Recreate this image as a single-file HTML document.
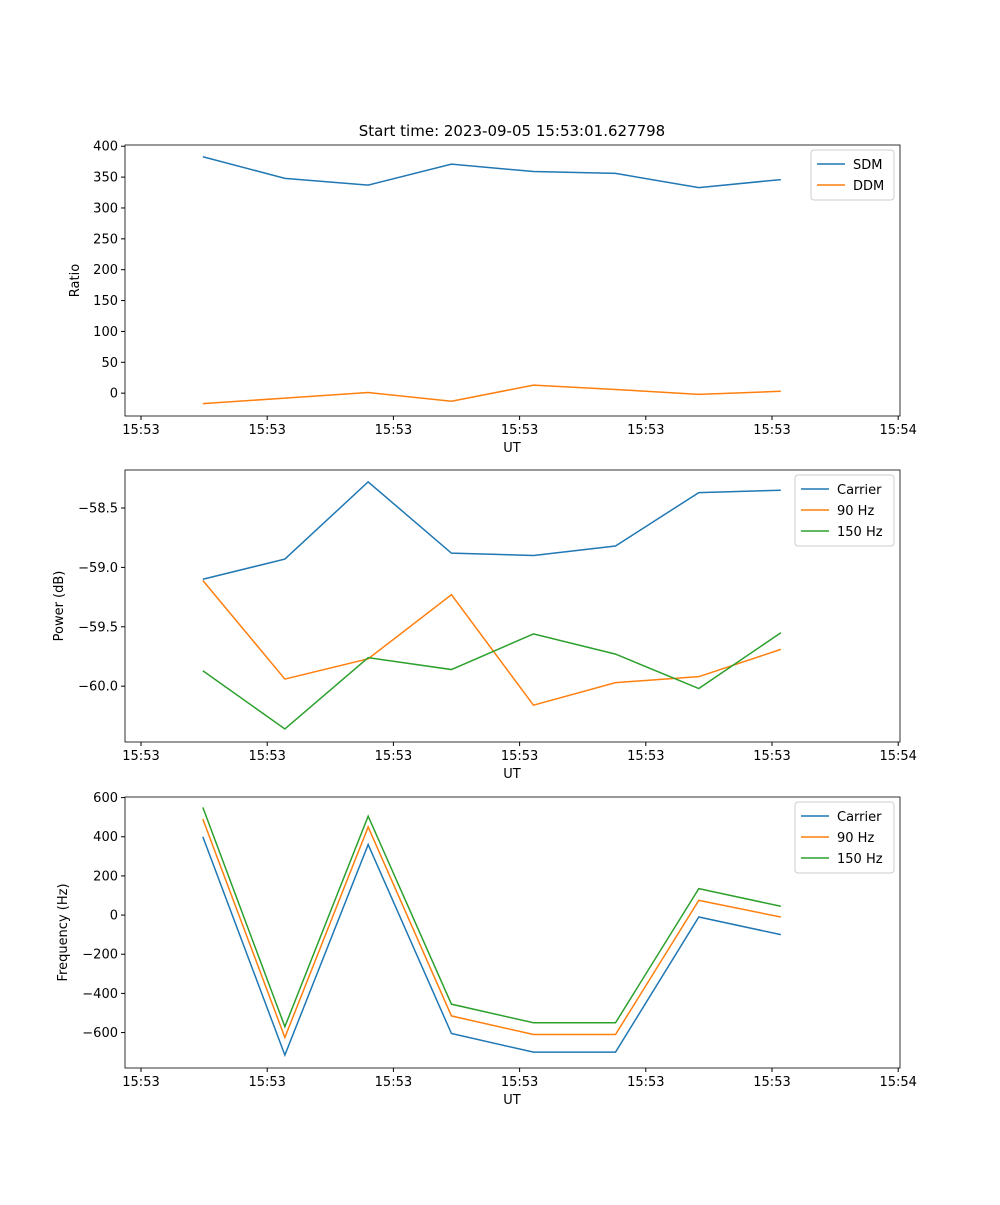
<!DOCTYPE html>
<html><head><meta charset="utf-8"><style>
body{margin:0;background:#fff}
svg text{font-family:"DejaVu Sans","Liberation Sans",sans-serif;font-size:13px;fill:#000}
</style></head><body>
<svg id="fig" width="1000" height="1200" xmlns="http://www.w3.org/2000/svg">
<text x="512" y="136" text-anchor="middle" style="font-size:15px">Start time: 2023-09-05 15:53:01.627798</text>
</svg>
<script>
const xTicks=[0,1,2,3,4,5,6];
const xTickLabels=["15:53","15:53","15:53","15:53","15:53","15:53","15:54"];
const times=[0.49,1.14,1.80,2.46,3.11,3.76,4.42,5.07];
const sdm=[383,348,337,371,359,356,333,346];
const ddm=[-17,-8,1,-13,13,6,-2,3];
const pCarrier=[-59.1,-58.93,-58.28,-58.88,-58.90,-58.82,-58.37,-58.35];
const p90=[-59.11,-59.94,-59.77,-59.23,-60.16,-59.97,-59.92,-59.69];
const p150=[-59.87,-60.36,-59.76,-59.86,-59.56,-59.73,-60.02,-59.55];
const fCarrier=[400,-715,360,-605,-700,-700,-10,-100];
const f90=[490,-625,450,-515,-610,-610,75,-10];
const f150=[550,-570,505,-455,-550,-550,135,45];
const ticks1=[0,50,100,150,200,250,300,350,400];
const ticks2=[-60.0,-59.5,-59.0,-58.5];
const ticks3=[-600,-400,-200,0,200,400,600];
const C=['#1f77b4','#ff7f0e','#2ca02c'];
const svg=document.getElementById('fig');
const NS='http://www.w3.org/2000/svg';
function mk(t,a,p){const e=document.createElementNS(NS,t);for(const k in a)e.setAttribute(k,a[k]);(p||svg).appendChild(e);return e;}
const L=125,R=900;
const xs=v=>141+v*126.2;
function panel(name,top,bot,ymin,ymax,yt,yfmt,ylab,series,legW,ylx){
  const g=mk('g',{});
  
  
  const ys=v=>bot-(v-ymin)/(ymax-ymin)*(bot-top);
  xTicks.forEach((t,i)=>{const x=xs(t);mk('line',{x1:x,x2:x,y1:bot,y2:bot+4,stroke:'#000'},g);
    const tx=mk('text',{x:x,y:bot+18,'text-anchor':'middle'},g);tx.textContent=xTickLabels[i];
    
    });
  yt.forEach(t=>{const y=ys(t);mk('line',{x1:L-4,x2:L,y1:y,y2:y,stroke:'#000'},g);
    const tx=mk('text',{x:L-7,y:y+4.5,'text-anchor':'end'},g);tx.textContent=yfmt(t);
    
    });
  series.forEach((s,i)=>{const pl=mk('polyline',{points:times.map((t,j)=>xs(t)+','+ys(s.v[j])).join(' '),fill:'none',stroke:C[i],'stroke-width':1.5},g);
    
    });
  mk('rect',{x:L,y:top,width:R-L,height:bot-top,fill:'none',stroke:'#000','stroke-width':0.8},g);
  const xl=mk('text',{x:512,y:bot+36,'text-anchor':'middle'},g);xl.textContent='UT';
  
  
  const mid=(top+bot)/2;
  const yl=mk('text',{x:0,y:0,'text-anchor':'middle',transform:`translate(${ylx},${mid}) rotate(-90)`},g);yl.textContent=ylab;
  
  
  const lg=mk('g',{},g);
  
  
  const lx=R-6-legW,ly=top+5;
  mk('rect',{x:lx,y:ly,width:legW,height:8+series.length*21,fill:'#fff',stroke:'#ccc',rx:3},lg);
  series.forEach((s,i)=>{const yy=ly+14+i*21;
    mk('line',{x1:lx+6,x2:lx+34,y1:yy,y2:yy,stroke:C[i],'stroke-width':1.5},lg);
    const t=mk('text',{x:lx+42,y:yy+5},lg);t.textContent=s.n;
    
    });
}
panel('ratio-panel',145,416,-37,402,ticks1,v=>String(v),'Ratio',[{n:'SDM',v:sdm},{n:'DDM',v:ddm}],83,79);
panel('power-panel',470,742,-60.47,-58.18,ticks2,v=>v.toFixed(1).replace('-','\u2212'),'Power (dB)',[{n:'Carrier',v:pCarrier},{n:'90 Hz',v:p90},{n:'150 Hz',v:p150}],99,63);
panel('frequency-panel',797,1068,-781,603,ticks3,v=>String(v).replace('-','\u2212'),'Frequency (Hz)',[{n:'Carrier',v:fCarrier},{n:'90 Hz',v:f90},{n:'150 Hz',v:f150}],99,67);
</script>
</body></html>
